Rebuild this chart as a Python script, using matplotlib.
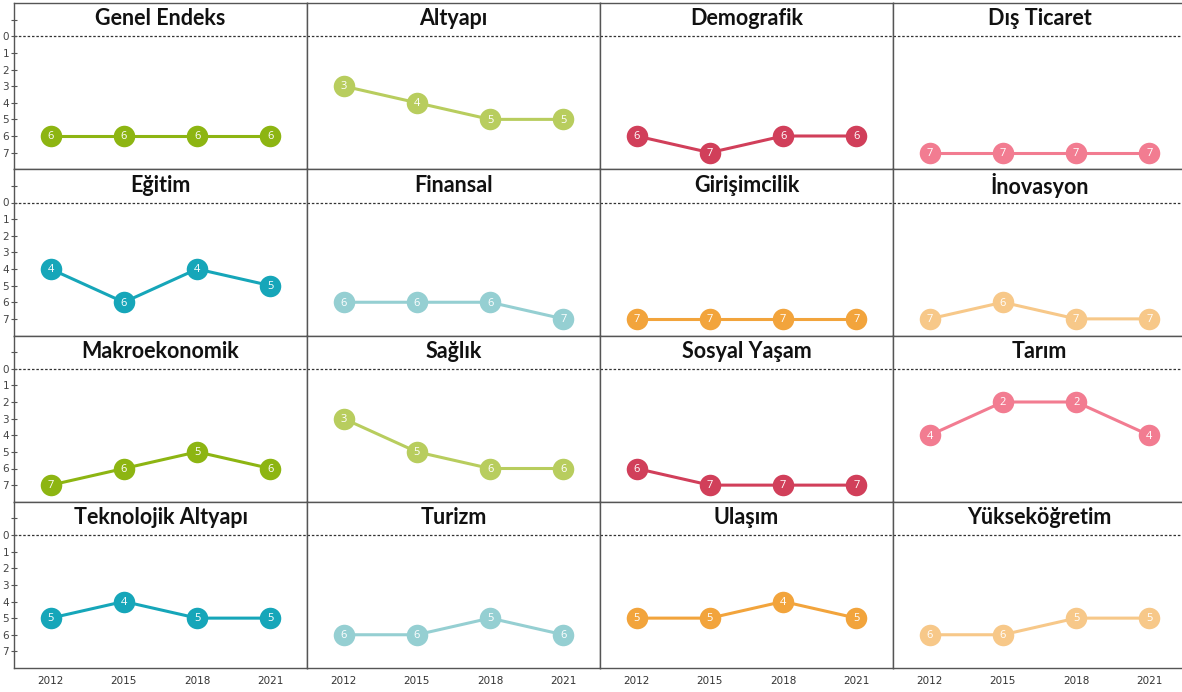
import matplotlib
matplotlib.use("Agg")
import matplotlib.pyplot as plt

# Panel titles, ordered row by row
titles = [
    "Genel Endeks", "Altyapı", "Demografik", "Dış Ticaret",
    "Eğitim", "Finansal", "Girişimcilik", "İnovasyon",
    "Makroekonomik", "Sağlık", "Sosyal Yaşam", "Tarım",
    "Teknolojik Altyapı", "Turizm", "Ulaşım", "Yükseköğretim",
]
years = ["2012", "2015", "2018", "2021"]

# Rank values per panel (2012, 2015, 2018, 2021)
genel_endeks = [6, 6, 6, 6]
altyapi = [3, 4, 5, 5]
demografik = [6, 7, 6, 6]
dis_ticaret = [7, 7, 7, 7]
egitim = [4, 6, 4, 5]
finansal = [6, 6, 6, 7]
girisimcilik = [7, 7, 7, 7]
inovasyon = [7, 6, 7, 7]
makroekonomik = [7, 6, 5, 6]
saglik = [3, 5, 6, 6]
sosyal_yasam = [6, 7, 7, 7]
tarim = [4, 2, 2, 4]
teknolojik_altyapi = [5, 4, 5, 5]
turizm = [6, 6, 5, 6]
ulasim = [5, 5, 4, 5]
yuksekogretim = [6, 6, 5, 5]

series = [
    genel_endeks, altyapi, demografik, dis_ticaret,
    egitim, finansal, girisimcilik, inovasyon,
    makroekonomik, saglik, sosyal_yasam, tarim,
    teknolojik_altyapi, turizm, ulasim, yuksekogretim,
]

# one colour per column, alternating dark/light palettes by row
row_colors = [
    ["#8db512", "#b8cd5e", "#d13f5a", "#f27c91"],
    ["#16a6b9", "#95cfd2", "#f2a43c", "#f7c889"],
]
colors = [row_colors[(i // 4) % 2][i % 4] for i in range(16)]

fig, axes = plt.subplots(4, 4, figsize=(11.82, 6.92), dpi=100, sharex=True, sharey=True)
# right edge of the last column sits just outside the image
fig.subplots_adjust(left=14 / 1182, right=1186 / 1182, top=1 - 3 / 692,
                    bottom=1 - 668 / 692, wspace=0, hspace=0)

x = list(range(len(years)))
for i, ax in enumerate(axes.flat):
    vals = series[i]
    c = colors[i]
    ax.plot(x, vals, "-o", color=c, lw=2.2, markersize=15.5, markeredgewidth=0, zorder=3)
    for xi, v in zip(x, vals):
        ax.text(xi, v + 0.05, str(v), color="white", fontsize=8, ha="center", va="center",
                zorder=4, family="Open Sans")
    ax.axhline(0, color="#333333", lw=0.9, ls=(0, (2, 1.5)), zorder=1)
    ax.text(1.5, -1.05, titles[i], fontsize=15.5, fontweight="bold", family="Lato",
            ha="center", va="center", color="#111111")
    ax.set_xlim(-0.5, 3.5)
    ax.set_ylim(8, -2)
    for sp in ax.spines.values():
        sp.set_color("#555555")
        sp.set_linewidth(1.0)

ax0 = axes[0, 0]
ax0.set_yticks(range(-1, 8))
ax0.set_yticklabels([""] + [str(k) for k in range(0, 8)])
ax0.set_xticks(x)
ax0.set_xticklabels(years)
for r in range(4):
    for col in range(4):
        ax = axes[r, col]
        ax.tick_params(axis="y", length=5, direction="inout", color="#555555",
                       labelsize=7.5, labelcolor="#444444", pad=1, left=(col == 0))
        ax.tick_params(axis="x", length=0, labelsize=7.5, labelcolor="#333333", pad=6)

fig.savefig("out.png", dpi=100)
